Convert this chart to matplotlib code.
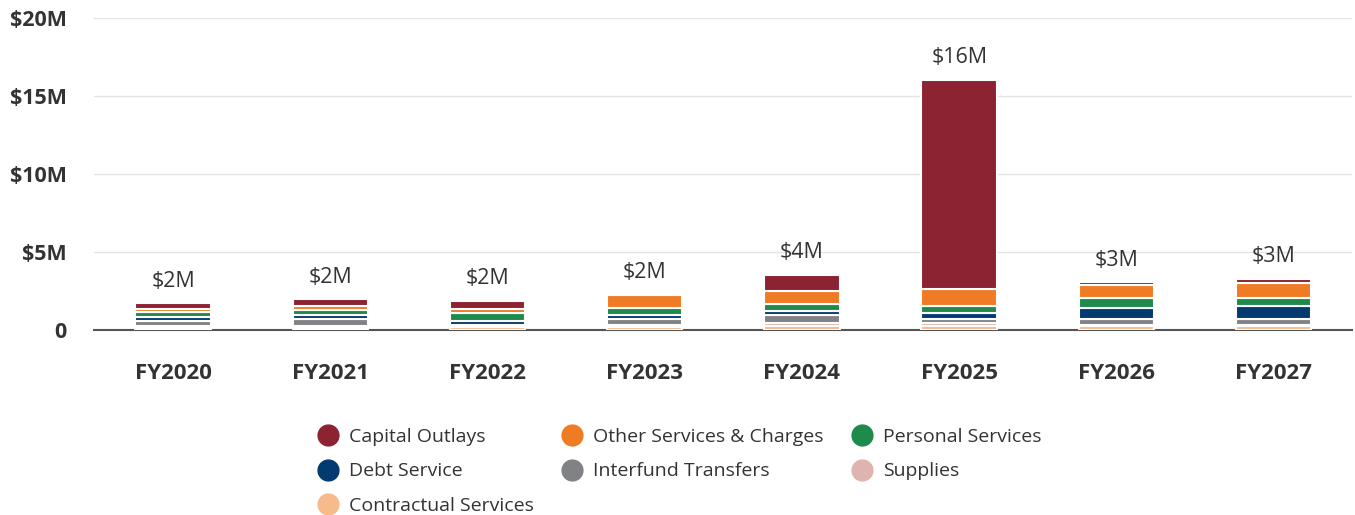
import matplotlib.pyplot as plt
import numpy as np

plt.rcParams['font.family'] = ['Open Sans', 'DejaVu Sans']

years = ['FY2020', 'FY2021', 'FY2022', 'FY2023', 'FY2024', 'FY2025', 'FY2026', 'FY2027']
# values in $M, stacked bottom -> top
contractual = [0.14, 0.15, 0.20, 0.20, 0.27, 0.25, 0.25, 0.25]
supplies = [0.12, 0.13, 0.10, 0.13, 0.19, 0.21, 0.10, 0.10]
interfund = [0.31, 0.44, 0.05, 0.40, 0.51, 0.24, 0.37, 0.36]
debt = [0.27, 0.24, 0.23, 0.23, 0.24, 0.39, 0.71, 0.85]
personal = [0.34, 0.36, 0.52, 0.45, 0.47, 0.47, 0.62, 0.49]
other = [0.15, 0.25, 0.24, 0.83, 0.81, 1.08, 0.82, 0.95]
capital = [0.38, 0.40, 0.54, 0.00, 1.04, 13.39, 0.19, 0.27]
total_labels = ['$2M', '$2M', '$2M', '$2M', '$4M', '$16M', '$3M', '$3M']

series = [
    ('Contractual Services', contractual, '#F7BA8B'),
    ('Supplies', supplies, '#E0B4AE'),
    ('Interfund Transfers', interfund, '#808285'),
    ('Debt Service', debt, '#033A70'),
    ('Personal Services', personal, '#1E8A4C'),
    ('Other Services & Charges', other, '#F07B25'),
    ('Capital Outlays', capital, '#8B2332'),
]

fig = plt.figure(figsize=(13.55, 5.15), dpi=100)
ax = fig.add_axes([0.0697, 0.359, 0.9283, 0.606])

x = np.arange(len(years))
bottom = np.zeros(len(years))
for name, vals, col in series:
    vals = np.array(vals)
    ax.bar(x, vals, 0.48, bottom=bottom, color=col, edgecolor='white', linewidth=1.5, zorder=3)
    bottom += vals

for i, lab in enumerate(total_labels):
    ax.text(x[i], bottom[i] + 0.75, lab, ha='center', va='bottom', fontsize=15.5, color='#333333')

ax.set_xlim(-0.5, 7.5)
ax.set_ylim(0, 20)
ax.set_yticks([0, 5, 10, 15, 20])
ax.set_yticklabels(['0', '$5M', '$10M', '$15M', '$20M'], fontsize=15.5, fontweight='bold', color='#333333')
ax.set_xticks(x)
ax.set_xticklabels(years, fontsize=16, fontweight='bold', color='#333333')
ax.tick_params(axis='both', length=0)
ax.tick_params(axis='x', pad=24)
ax.tick_params(axis='y', pad=20)
for s in ['top', 'right', 'left']:
    ax.spines[s].set_visible(False)
ax.spines['bottom'].set_color('#555555')
ax.spines['bottom'].set_linewidth(1.5)
ax.grid(axis='y', color='#e4e4e4', linewidth=1, zorder=0)
ax.set_axisbelow(True)

order = ['Capital Outlays', 'Debt Service', 'Contractual Services',
         'Other Services & Charges', 'Interfund Transfers',
         'Personal Services', 'Supplies']
cols = {n: c for n, _, c in series}
leg_h = [plt.Line2D([], [], marker='o', linestyle='', markersize=15, color=cols[n]) for n in order]
fig.legend(leg_h, order, loc='upper center', bbox_to_anchor=(0.5, 0.188), ncol=3,
           frameon=False, fontsize=14, labelcolor='#333333', handletextpad=0.34,
           handlelength=1.5, columnspacing=1.2, labelspacing=0.85, borderpad=0)

fig.savefig('out.png', dpi=100)
